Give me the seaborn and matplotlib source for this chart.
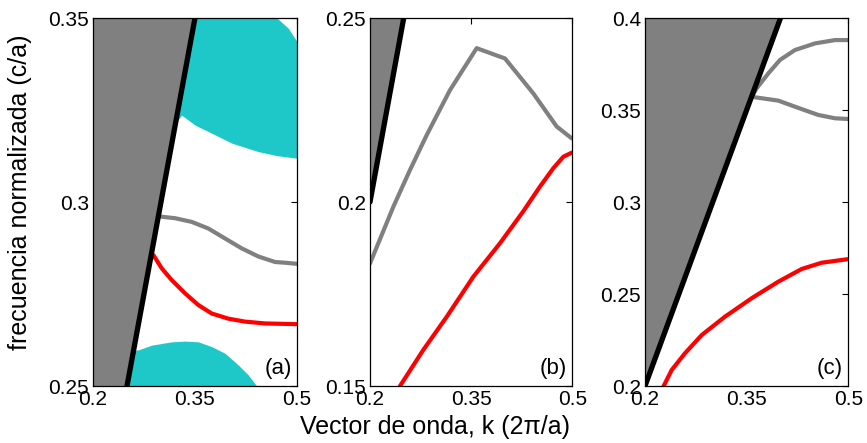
import numpy as np
import seaborn as sns
import matplotlib.pyplot as plt

# ---- panel (a) ----
a_gray_k = [0.301, 0.3206, 0.3451, 0.3696, 0.3941, 0.4187, 0.4431, 0.4676, 0.4824, 0.4996]
a_gray_w = [0.2960, 0.2956, 0.2946, 0.2928, 0.2901, 0.2874, 0.2852, 0.2837, 0.2835, 0.2832]
a_red_k = [0.2887, 0.301, 0.3157, 0.3353, 0.3549, 0.3746, 0.399, 0.4235, 0.4529, 0.4996]
a_red_w = [0.2856, 0.2820, 0.2788, 0.2752, 0.2720, 0.2697, 0.2683, 0.2675, 0.2670, 0.2668]

# upper cyan band
band1_k = [0.20, 0.3304, 0.35, 0.3746, 0.404, 0.443, 0.4706, 0.4873, 0.50]
band1_lo = [0.293, 0.3236, 0.3209, 0.3187, 0.3160, 0.3137, 0.3126, 0.3122, 0.3119]
band1_hi = [0.35, 0.35, 0.35, 0.35, 0.35, 0.35, 0.35, 0.3472, 0.3436]
# lower cyan band
band2_k = [0.20, 0.2666, 0.2863, 0.3157, 0.3353, 0.3549, 0.3746, 0.3941, 0.4137, 0.4284, 0.4407]
band2_hi = [0.2595, 0.2598, 0.2611, 0.2620, 0.2622, 0.2620, 0.2607, 0.2589, 0.2557, 0.2530, 0.2500]

# ---- panel (b) ----
b_gray_k = [0.20, 0.2346, 0.2593, 0.2841, 0.3186, 0.3582, 0.4002, 0.4422, 0.4769, 0.4991]
b_gray_w = [0.1833, 0.1987, 0.2087, 0.2182, 0.2304, 0.2418, 0.2390, 0.2295, 0.2205, 0.2173]
b_red_k = [0.2445, 0.279, 0.3137, 0.3532, 0.3928, 0.4274, 0.4521, 0.4719, 0.4867, 0.4991]
b_red_w = [0.1500, 0.1598, 0.1688, 0.1797, 0.1888, 0.1975, 0.2042, 0.2092, 0.2123, 0.2134]

# ---- panel (c) ----
c_gray1_k = [0.358, 0.3648, 0.3820, 0.3992, 0.4213, 0.4509, 0.4804, 0.50]
c_gray1_w = [0.3575, 0.3618, 0.3699, 0.3772, 0.3826, 0.3862, 0.3880, 0.3880]
c_gray2_k = [0.357, 0.3623, 0.3967, 0.4213, 0.4557, 0.4804, 0.50]
c_gray2_w = [0.3572, 0.3569, 0.3551, 0.3518, 0.3473, 0.3455, 0.3451]
c_red_k = [0.2270, 0.2394, 0.2590, 0.2837, 0.3181, 0.3574, 0.3967, 0.4312, 0.4607, 0.4985]
c_red_w = [0.1996, 0.2087, 0.2178, 0.2277, 0.2377, 0.2477, 0.2567, 0.2636, 0.2670, 0.2689]

ylims = [(0.25, 0.35), (0.15, 0.25), (0.2, 0.4)]
yticks = [[0.25, 0.3, 0.35], [0.15, 0.2, 0.25], [0.2, 0.25, 0.3, 0.35, 0.4]]
ytick_labels = [['0.25', '0.3', '0.35'], ['0.15', '0.2', '0.25'],
                ['0.2', '0.25', '0.3', '0.35', '0.4']]
xticks = [0.2, 0.35, 0.5]
xtick_labels = ['0.2', '0.35', '0.5']
panel_tags = ['(a)', '(b)', '(c)']

sns.set_style('white')
plt.rcParams['font.family'] = ['Liberation Sans', 'DejaVu Sans']
plt.rcParams['text.color'] = 'black'

CYAN = '#1ec8c8'
GRAY = '#808080'

fig = plt.figure(figsize=(8.67, 4.43), dpi=100)
lefts = [93 / 867, 370 / 867, 645 / 867]
widths = [204 / 867, 202.3 / 867, 203.3 / 867]
axes = [fig.add_axes([l, 1 - 386 / 443, w, 368 / 443]) for l, w in zip(lefts, widths)]

for i, ax in enumerate(axes):
    y0, y1 = ylims[i]
    lo = max(y0, 0.2)
    if i == 0:
        ax.fill_between(band1_k, band1_lo, band1_hi, color=CYAN, lw=0, zorder=1)
        ax.fill_between(band2_k, [0.25] * len(band2_k), band2_hi, color=CYAN, lw=0, zorder=1)
    # light cone (k < w)
    ww = np.array([lo, y1])
    ax.fill_betweenx(ww, [0.2, 0.2], ww, color=GRAY, lw=0, zorder=1.5)
    ax.set_xlim(0.2, 0.5)
    ax.set_ylim(y0, y1)
    ax.set_xticks(xticks)
    ax.set_xticklabels(xtick_labels)
    ax.set_yticks(yticks[i])
    ax.set_yticklabels(ytick_labels[i])
    ax.tick_params(direction='in', length=4, width=0.8, top=True, right=True,
                   labelsize=15, pad=3, colors='black')
    for s in ax.spines.values():
        s.set_color('black')
        s.set_linewidth(0.9)
    ax.text(0.975, 0.02, panel_tags[i], transform=ax.transAxes, ha='right', va='bottom',
            fontsize=16, color='black')

lw = 3.0
sns.lineplot(x=a_gray_k, y=a_gray_w, ax=axes[0], color=GRAY, linewidth=lw, sort=False, estimator=None)
sns.lineplot(x=a_red_k, y=a_red_w, ax=axes[0], color='red', linewidth=lw, sort=False, estimator=None)
sns.lineplot(x=b_gray_k, y=b_gray_w, ax=axes[1], color=GRAY, linewidth=lw, sort=False, estimator=None)
sns.lineplot(x=b_red_k, y=b_red_w, ax=axes[1], color='red', linewidth=lw, sort=False, estimator=None)
sns.lineplot(x=c_gray1_k, y=c_gray1_w, ax=axes[2], color=GRAY, linewidth=lw, sort=False, estimator=None)
sns.lineplot(x=c_gray2_k, y=c_gray2_w, ax=axes[2], color=GRAY, linewidth=lw, sort=False, estimator=None)
sns.lineplot(x=c_red_k, y=c_red_w, ax=axes[2], color='red', linewidth=lw, sort=False, estimator=None)

# light line w = k
for i, ax in enumerate(axes):
    y0, y1 = ylims[i]
    lo = max(y0, 0.2)
    sns.lineplot(x=[lo, y1], y=[lo, y1], ax=ax, color='black', linewidth=3.8,
                 sort=False, estimator=None)
    ax.set_xlim(0.2, 0.5)
    ax.set_ylim(y0, y1)
    ax.set_xlabel('')
    ax.set_ylabel('')

fig.text(435 / 867, 1 - 427 / 443, 'Vector de onda, k (2\u03c0/a)', ha='center', va='center',
         fontsize=18, color='black')
fig.text(20 / 867, 1 - 192 / 443, 'frecuencia normalizada (c/a)', ha='center', va='center',
         rotation=90, fontsize=18, color='black')

fig.savefig('out.png', dpi=100)
